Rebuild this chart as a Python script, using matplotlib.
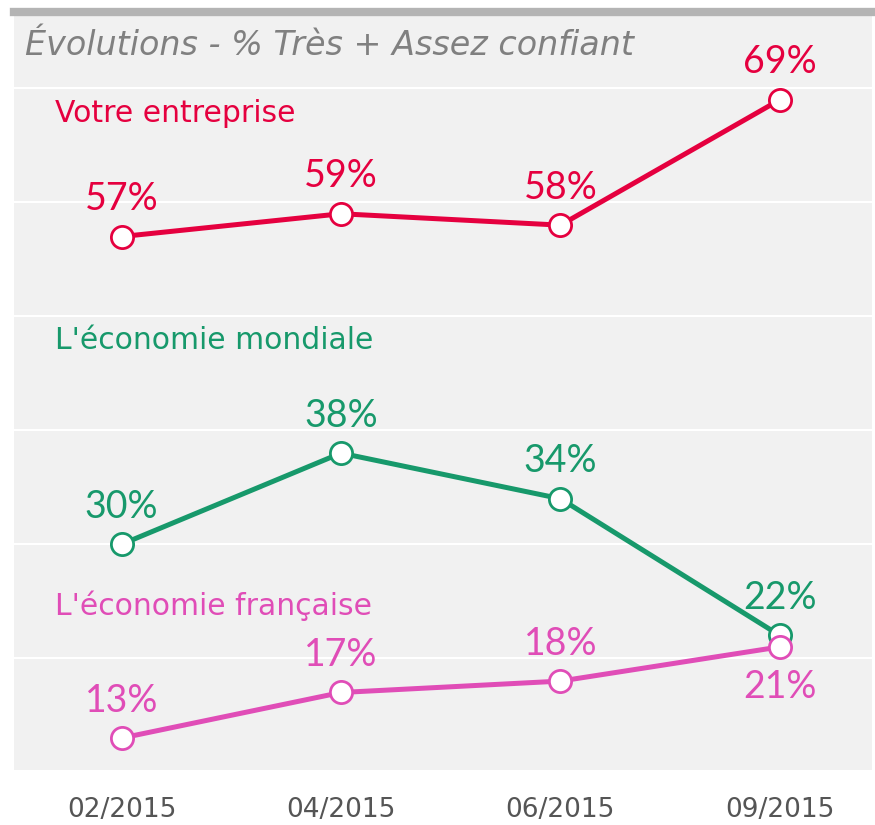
import matplotlib
matplotlib.use('Agg')
import matplotlib.pyplot as plt
import numpy as np

periods = ['02/2015', '04/2015', '06/2015', '09/2015']
entreprise = [57, 59, 58, 69]
mondiale = [30, 38, 34, 22]
francaise = [13, 17, 18, 21]

series = [
    ('Votre entreprise', entreprise, '#E5003F', 67.8),
    ("L'économie mondiale", mondiale, '#17996B', 47.9),
    ("L'économie française", francaise, '#E04DB7', 24.6),
]

fig = plt.figure(figsize=(8.75, 8.25), dpi=100)
ax = fig.add_axes([14 / 875, 55 / 825, 858 / 875, 758 / 825])
ax.set_facecolor('#F1F1F1')
x = np.arange(len(periods))

ax.set_xlim(-0.49, 3.42)
ax.set_ylim(10.2, 76.7)
ax.set_yticks([20, 30, 40, 50, 60, 70])
ax.grid(axis='y', color='white', lw=1.5)
ax.set_axisbelow(True)
ax.tick_params(left=False, labelleft=False, bottom=False)
for s in ['left', 'right', 'bottom']:
    ax.spines[s].set_visible(False)
ax.spines['top'].set_color('#B4B4B4')
ax.spines['top'].set_linewidth(6)

ax.set_xticks(x, periods, fontsize=19, color='#555555', family='DejaVu Sans')
ax.tick_params(axis='x', pad=16)

ax.text(0.013, 73.8, 'Évolutions - % Très + Assez confiant', transform=ax.get_yaxis_transform(),
        fontsize=24, style='italic', color='#808080', va='center', family='DejaVu Sans')

for name, vals, col, ly in series:
    ax.plot(x, vals, color=col, lw=3.6, marker='o', ms=16, mfc='white', mec=col, mew=2, zorder=3)
    ax.text(0.048, ly, name, transform=ax.get_yaxis_transform(), fontsize=21.5,
            color=col, va='center', family='DejaVu Sans')
    for i, v in enumerate(vals):
        dy = 27
        if name == "L'économie française" and i == 3:
            dy = -29
        ax.annotate(f'{v}%', (x[i], v), xytext=(0, dy), textcoords='offset points',
                    ha='center', va='center', fontsize=27, color=col, family='Lato',
                    zorder=4)

fig.savefig('out.png', dpi=100)
